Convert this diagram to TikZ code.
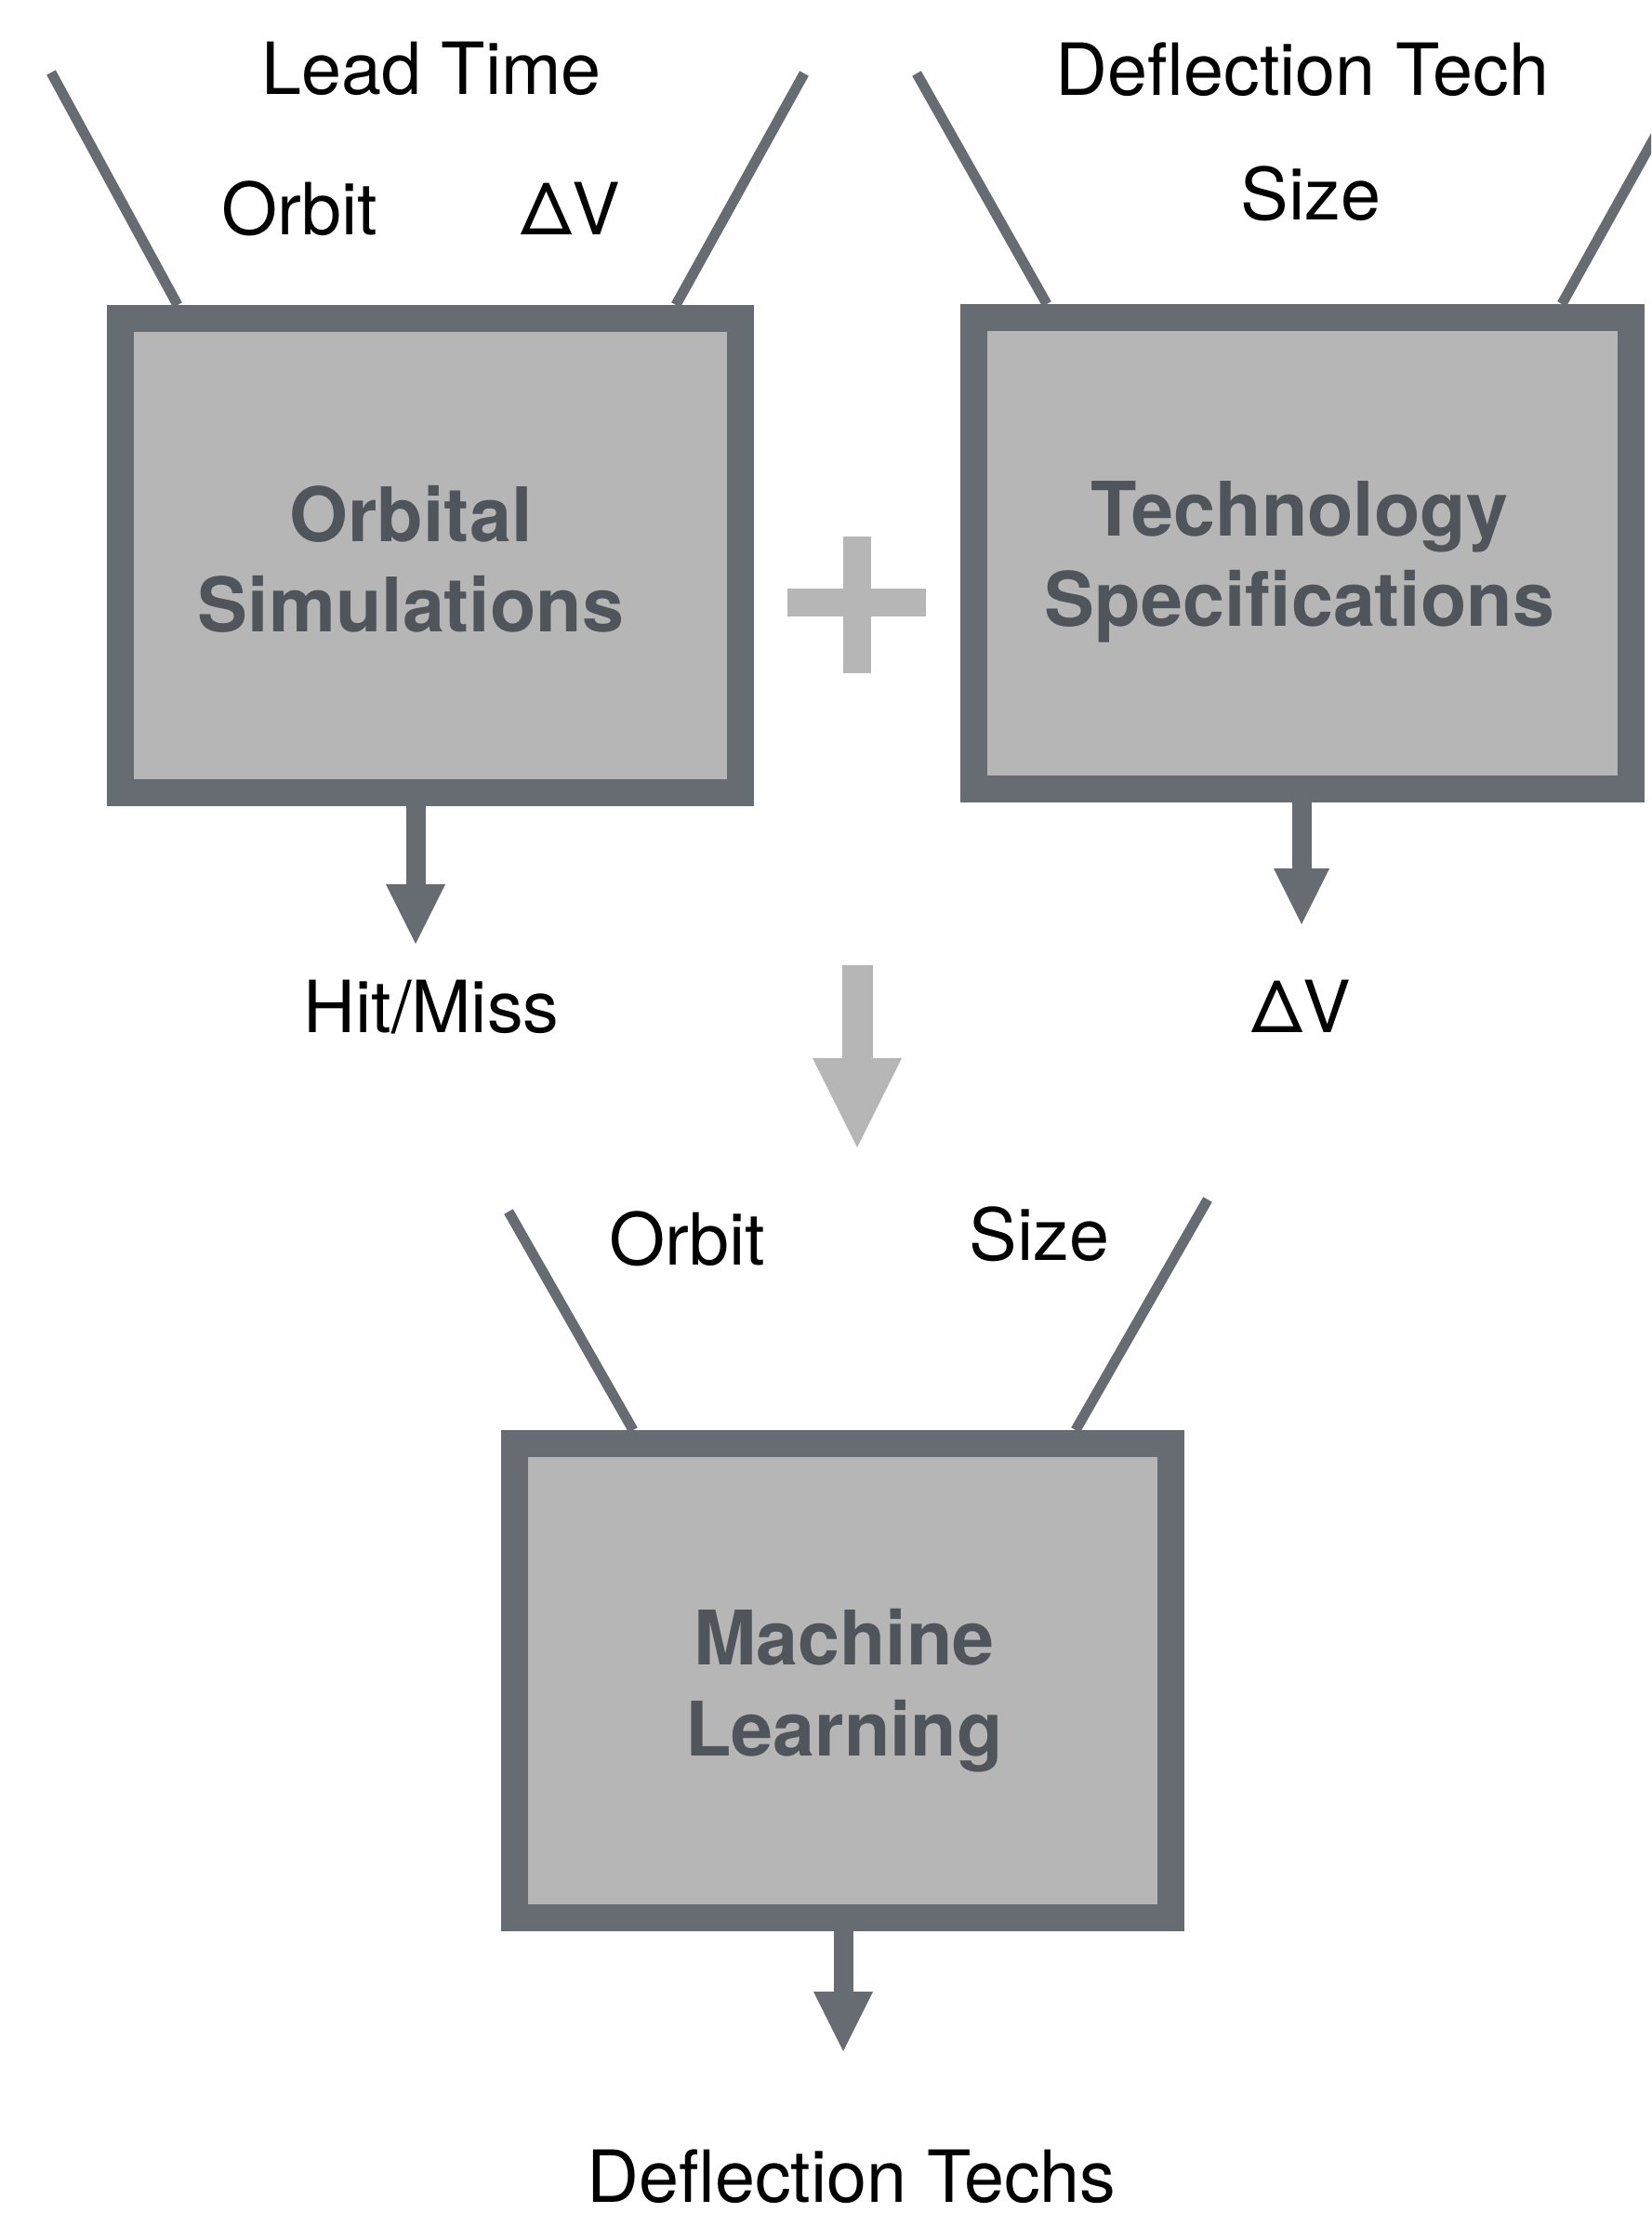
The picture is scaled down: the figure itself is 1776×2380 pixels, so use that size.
\documentclass[tikz,border=0pt]{standalone}
\usepackage{fontspec}
\setmainfont{TeX Gyre Heros}
\usetikzlibrary{arrows.meta}
\definecolor{FrameClr}{HTML}{676B72}
\definecolor{BoxClr}{HTML}{B5B6B5}
\definecolor{TitleClr}{HTML}{50555C}
\definecolor{MergeClr}{HTML}{B5B6B5}

\tikzset{
  block/.style={draw=FrameClr,fill=BoxClr,line width=0.29cm,inner sep=0pt},
  feed/.style={draw=FrameClr,line width=0.11cm},
  outflow/.style={draw=FrameClr,line width=0.21cm,
    -{Triangle[width=0.64cm,length=0.64cm,line width=0pt]}},
  lbl/.style={anchor=base,inner sep=0pt,font=\fontsize{22}{26}\selectfont},
  blocktitle/.style={anchor=base,inner sep=0pt,align=center,text=TitleClr,
    font=\fontsize{23}{27.6}\selectfont\bfseries},
}

\begin{document}
\begin{tikzpicture}[x=0.01cm,y=-0.01cm]
\useasboundingbox (0,0) rectangle (1776,2380);
\clip (0,0) rectangle (1776,2380);

% Define the ends of the input lines of each block.
\coordinate (osLa) at (55,78);    \coordinate (osLb) at (191,328);
\coordinate (osRa) at (865,79);   \coordinate (osRb) at (727,328);
\coordinate (tsLa) at (986,79);   \coordinate (tsLb) at (1126,327);
\coordinate (tsRa) at (1818,79);  \coordinate (tsRb) at (1680,327);
\coordinate (mlLa) at (547,1303); \coordinate (mlLb) at (681,1538);
\coordinate (mlRa) at (1299,1290);\coordinate (mlRb) at (1157,1538);

\draw[feed] (osLa) -- (osLb) (osRa) -- (osRb);
\draw[feed] (tsLa) -- (tsLb) (tsRa) -- (tsRb);
\draw[feed] (mlLa) -- (mlLb) (mlRa) -- (mlRb);

% Draw the blocks.
\node[block,minimum width=6.67cm,minimum height=5.10cm] (OS) at (463,597.5) {};
\node[block,minimum width=7.07cm,minimum height=5.07cm] (TS) at (1401,595) {};
\node[block,minimum width=7.06cm,minimum height=5.10cm] (ML) at (906.5,1807.5) {};

% Titles, placed by the baseline of their last line.
\node[blocktitle] (osTitle) at (442,680) {Orbital\\Simulations};
\node[blocktitle] (tsTitle) at (1398,674) {Technology\\Specifications};
\node[blocktitle] (mlTitle) at (908,1888) {Machine\\Learning};

% The plus sign between the two upper blocks.
\draw[MergeClr,line width=0.30cm] (847,648) -- (996,648) (922,577) -- (922,724);

% Outputs of the blocks.
\coordinate (hmTip) at (447,1015);
\coordinate (dvTip) at (1400,994);
\coordinate (dtTip) at (907,2206);
\draw[outflow] (hmTip |- OS.south) -- (hmTip);
\draw[outflow,-{Triangle[width=0.60cm,length=0.60cm,line width=0pt]}] (dvTip |- TS.south) -- (dvTip);
\draw[outflow] (dtTip |- ML.south) -- (dtTip);

% The merge arrow.
\coordinate (mergeTop) at (922,1038);
\coordinate (mergeTip) at (922,1234);
\draw[MergeClr,line width=0.33cm,-{Triangle[width=0.96cm,length=0.96cm,line width=0pt]}] (mergeTop) -- (mergeTip);

% Labels.
\node[lbl] (leadTime) at (464,102) {Lead Time};
\node[lbl] (osOrbit) at (322,253) {Orbit};
\node[lbl] (osDv) at (614,253) {ΔV};
\node[lbl] (deflTech) at (1401,103) {Deflection Tech};
\node[lbl] (tsSize) at (1410,237) {Size};
\node[lbl] (hitMiss) at (464,1110) {Hit/Miss};
\node[lbl] (tsDv) at (1400,1110) {ΔV};
\node[lbl] (mlOrbit) at (739,1360) {Orbit};
\node[lbl] (mlSize) at (1118,1355) {Size};
\node[lbl] (deflTechs) at (916,2368) {Deflection Techs};

\end{tikzpicture}
\end{document}
